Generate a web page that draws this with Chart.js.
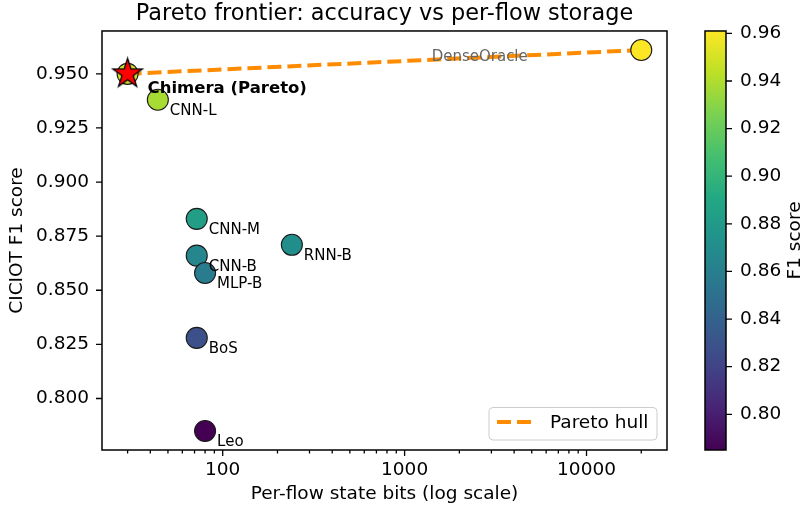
<!DOCTYPE html>
<html><head><meta charset="utf-8">
<script src="https://cdn.jsdelivr.net/npm/chart.js@4/dist/chart.umd.min.js"></script>
<style>html,body{margin:0;padding:0;background:#fff}#wrap{width:804px;height:512px}</style>
</head><body><div id="wrap"><canvas id="c" width="804" height="512"></canvas></div>
<script>
// ---- data ----
const models = ['Chimera', 'CNN-L', 'DenseOracle', 'CNN-M', 'RNN-B', 'CNN-B', 'MLP-B', 'BoS', 'Leo'];
const pointLabels = ['Chimera (Pareto)', 'CNN-L', 'DenseOracle', 'CNN-M', 'RNN-B', 'CNN-B', 'MLP-B', 'BoS', 'Leo'];
const stateBits = [30, 44, 20000, 72, 240, 72, 80, 72, 80];
const f1Scores = [0.950, 0.938, 0.961, 0.883, 0.871, 0.866, 0.858, 0.828, 0.785];
const paretoModels = ['Chimera', 'DenseOracle'];
const yTicks = [0.800, 0.825, 0.850, 0.875, 0.900, 0.925, 0.950];
const xTicks = [100, 1000, 10000];
const cbTicks = [0.80, 0.82, 0.84, 0.86, 0.88, 0.90, 0.92, 0.94, 0.96];

// ---- styling ----
const FONT = 'DejaVu Sans';
Chart.defaults.font.family = FONT;
Chart.defaults.color = '#000';
const VIRIDIS = ['#440154','#482475','#414487','#355f8d','#2a788e','#21918c','#22a884','#44bf70','#7ad151','#bddf26','#fde725'];
function hex(h){return [1,3,5].map(i=>parseInt(h.slice(i,i+2),16));}
function viridis(t){
  t = Math.max(0, Math.min(1, t));
  const p = t*10, i = Math.min(9, Math.floor(p)), f = p - i;
  const a = hex(VIRIDIS[i]), b = hex(VIRIDIS[i+1]);
  const c = a.map((v,k)=>Math.round(v + (b[k]-v)*f));
  return `rgb(${c[0]},${c[1]},${c[2]})`;
}
const vmin = Math.min(...f1Scores), vmax = Math.max(...f1Scores);
const colorOf = v => viridis((v - vmin)/(vmax - vmin));

function makeStar(r){
  const s = Math.ceil(r*2 + 4);
  const c = document.createElement('canvas'); c.width = s; c.height = s;
  const g = c.getContext('2d'); const cx = s/2, cy = s/2;
  g.beginPath();
  for (let k = 0; k < 10; k++) {
    const rad = (k % 2) ? r*0.381966 : r;
    const a = -Math.PI/2 + k*Math.PI/5;
    g.lineTo(cx + rad*Math.cos(a), cy + rad*Math.sin(a));
  }
  g.closePath(); g.fillStyle = '#ff0000'; g.fill();
  g.lineWidth = 1.3; g.strokeStyle = '#000'; g.lineJoin = 'miter'; g.stroke();
  return c;
}

const labelStyle = {
  default: {dx: 12, dy: 15.5, font: '15px ' + FONT, color: '#000', align: 'left'},
  'Chimera': {dx: 20, dy: 19.5, font: 'bold 16.5px ' + FONT, color: '#000', align: 'left'},
  'DenseOracle': {dx: -113.5, dy: 11, font: '15px ' + FONT, color: '#666', align: 'right'}
};

const pts = models.map((m,i)=>({x: stateBits[i], y: f1Scores[i]}));
const hullPts = paretoModels.map(m => pts[models.indexOf(m)]);
const starIdx = models.indexOf('Chimera');

const HULL_COLOR = '#ff8c00';
const HULL_DASH = [14, 6];

const decorPlugin = {
  id: 'decor',
  afterDatasetsDraw(chart) {
    const ctx = chart.ctx, xs = chart.scales.x, ys = chart.scales.y;
    ctx.save();
    ctx.textBaseline = 'alphabetic';
    models.forEach((m,i)=>{
      const st = labelStyle[m] || labelStyle.default;
      const px = xs.getPixelForValue(stateBits[i]), py = ys.getPixelForValue(f1Scores[i]);
      ctx.font = st.font; ctx.fillStyle = st.color; ctx.textAlign = st.align;
      ctx.fillText(pointLabels[i], px + st.dx, py + st.dy);
    });
    ctx.restore();
  },
  afterDraw(chart) {
    const ctx = chart.ctx, a = chart.chartArea;
    const xs = chart.scales.x, ys = chart.scales.y, cb = chart.scales.cb;
    ctx.save();
    // spines
    ctx.strokeStyle = '#000'; ctx.lineWidth = 1.5;
    ctx.strokeRect(a.left, a.top, a.right - a.left, a.bottom - a.top);
    // y ticks
    ctx.lineWidth = 1.3;
    ctx.beginPath();
    yTicks.forEach(v=>{const py = ys.getPixelForValue(v); ctx.moveTo(a.left - 6, py); ctx.lineTo(a.left, py);});
    // x ticks major/minor
    xs.ticks.forEach(t=>{
      const px = xs.getPixelForValue(t.value);
      const len = xTicks.includes(t.value) ? 6 : 3.5;
      ctx.moveTo(px, a.bottom); ctx.lineTo(px, a.bottom + len);
    });
    ctx.stroke();
    // colorbar
    const cbL = 705, cbR = 726, cbT = cb.top, cbB = cb.bottom;
    const grad = ctx.createLinearGradient(0, cbB, 0, cbT);
    VIRIDIS.forEach((c,k)=>grad.addColorStop(k/10, c));
    ctx.fillStyle = grad; ctx.fillRect(cbL, cbT, cbR - cbL, cbB - cbT);
    ctx.lineWidth = 1.5; ctx.strokeStyle = '#000';
    ctx.strokeRect(cbL, cbT, cbR - cbL, cbB - cbT);
    ctx.lineWidth = 1.3; ctx.beginPath();
    cbTicks.forEach(v=>{const py = cb.getPixelForValue(v); ctx.moveTo(cbR, py); ctx.lineTo(cbR + 6, py);});
    ctx.stroke();
    ctx.translate(795.5, (cbT + cbB)/2); ctx.rotate(-Math.PI/2);
    ctx.font = '18.5px ' + FONT; ctx.fillStyle = '#000'; ctx.textAlign = 'center'; ctx.textBaseline = 'middle';
    ctx.fillText('F1 score', 0, 0);
    ctx.restore();
    // legend
    ctx.save();
    const lx = 489, ly = 407.5, lw = 168, lh = 32.5, r = 4;
    ctx.beginPath();
    ctx.roundRect(lx, ly, lw, lh, r);
    ctx.fillStyle = 'rgba(255,255,255,0.8)'; ctx.fill();
    ctx.strokeStyle = '#cccccc'; ctx.lineWidth = 1; ctx.stroke();
    ctx.beginPath(); ctx.setLineDash(HULL_DASH); ctx.strokeStyle = HULL_COLOR; ctx.lineWidth = 4;
    ctx.moveTo(497, 422); ctx.lineTo(531, 422); ctx.stroke(); ctx.setLineDash([]);
    ctx.font = '18.5px ' + FONT; ctx.fillStyle = '#000'; ctx.textAlign = 'left'; ctx.textBaseline = 'middle';
    ctx.fillText(chart.data.datasets[0].label, 550, 423.5);
    ctx.restore();
  }
};

const hiddenGrid = {display: true, drawOnChartArea: false, drawTicks: true, tickColor: 'rgba(0,0,0,0)'};

new Chart(document.getElementById('c'), {
  type: 'scatter',
  data: {
    datasets: [
      {label: 'Pareto hull', data: hullPts, showLine: true, borderColor: HULL_COLOR, borderWidth: 4,
       borderDash: HULL_DASH, borderCapStyle: 'butt', pointRadius: 0, order: 3, fill: false},
      {label: 'models', data: pts, backgroundColor: f1Scores.map(colorOf), borderColor: '#1a1a1a',
       borderWidth: 1.1, pointRadius: 10.5, order: 2},
      {label: 'Chimera', data: [pts[starIdx]], pointStyle: makeStar(15.5), pointRadius: 15, order: 1}
    ]
  },
  options: {
    responsive: false, animation: false, events: [], devicePixelRatio: 1,
    layout: {padding: 0},
    plugins: {
      legend: {display: false}, tooltip: {enabled: false},
      title: {display: true, text: 'Pareto frontier: accuracy vs per-flow storage', fullSize: false,
        font: {size: 22.4, weight: 'normal'}, color: '#000', padding: {top: 1, bottom: 3.1}}
    },
    scales: {
      x: {type: 'logarithmic', position: 'bottom', min: 21.7, max: 27700,
        afterBuildTicks(s){
          const t = [];
          for (let e = 1; e <= 4; e++) for (let m = 1; m <= 9; m++) {
            const v = m*Math.pow(10, e); if (v >= s.min && v <= s.max) t.push({value: v});
          }
          s.ticks = t;
        },
        afterFit(s){ s.height = 62; },
        ticks: {autoSkip: false, maxRotation: 0, padding: 3, font: {size: 18.5},
          callback: v => xTicks.includes(v) ? String(v) : ''},
        grid: Object.assign({tickLength: 6}, hiddenGrid), border: {display: false},
        title: {display: true, text: 'Per-flow state bits (log scale)', font: {size: 18.5}, padding: {top: 0, bottom: 6.9}}
      },
      y: {type: 'linear', position: 'left', min: 0.7762, max: 0.9698,
        afterBuildTicks(s){ s.ticks = yTicks.map(v=>({value: v})); },
        afterFit(s){ s.width = 102; },
        ticks: {padding: 7, font: {size: 18.5}, callback: v => Number(v).toFixed(3)},
        grid: Object.assign({tickLength: 6}, hiddenGrid), border: {display: false},
        title: {display: true, text: 'CICIOT F1 score', font: {size: 18.5}, padding: {top: 6, bottom: 0}}
      },
      cb: {type: 'linear', position: 'right', min: vmin, max: vmax,
        afterBuildTicks(s){ s.ticks = cbTicks.map(v=>({value: v})); },
        afterFit(s){ s.width = 137; },
        ticks: {padding: 8, font: {size: 18.5}, callback: v => Number(v).toFixed(2)},
        grid: Object.assign({tickLength: 65}, hiddenGrid), border: {display: false}
      }
    }
  },
  plugins: [decorPlugin]
});
</script>
</body></html>
